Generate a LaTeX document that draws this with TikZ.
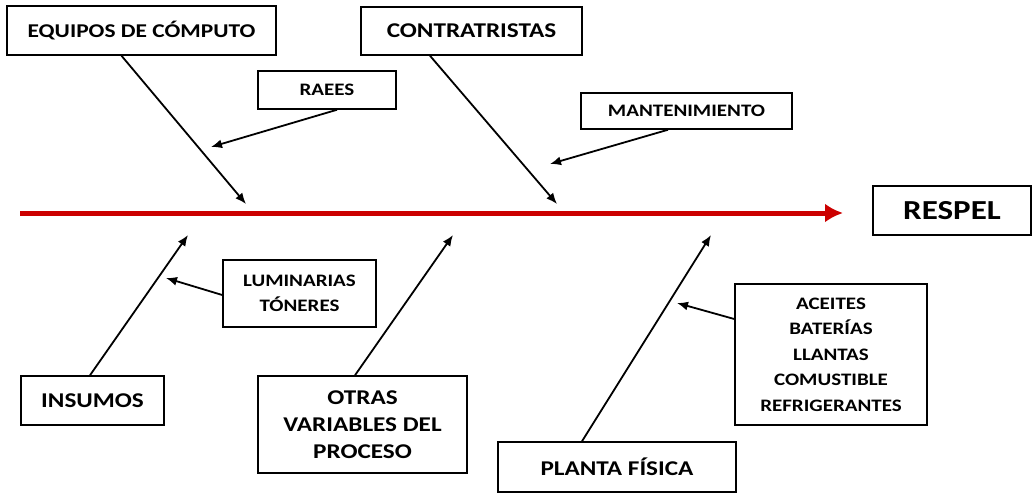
\documentclass[tikz,border=0pt]{standalone}
\usepackage{fontspec}
\setmainfont{Carlito}[FakeStretch=1.2]
\usetikzlibrary{arrows.meta}
\definecolor{rojo}{RGB}{204,0,0}
\begin{document}
\begin{tikzpicture}[x=1pt, y=-1pt, >={Latex[length=11pt,width=9pt]},
  caja/.style={draw, line width=1.5pt, align=center, inner sep=0pt,
    font=\bfseries\fontsize{21}{27}\selectfont},
  cajita/.style={caja, font=\bfseries\fontsize{17.5}{25.5}\selectfont}]
\useasboundingbox (0,0) rectangle (1033,493);

% causas
\node[caja, minimum width=269, minimum height=49, font=\bfseries\fontsize{19.5}{27}\selectfont] (equipos) at (141.5,30.5) {EQUIPOS DE CÓMPUTO};
\node[caja, minimum width=221, minimum height=48] (contrat) at (471.5,31) {CONTRATRISTAS};
\node[caja, minimum width=143, minimum height=49] (insumos) at (92.5,400.5) {INSUMOS};
\node[caja, minimum width=209, minimum height=97] (otras) at (362.5,424.5) {OTRAS\\VARIABLES DEL\\PROCESO};
\node[caja, minimum width=238, minimum height=50] (planta) at (617,467) {PLANTA FÍSICA};
\node[caja, minimum width=158, minimum height=49, font=\bfseries\fontsize{27.5}{30}\selectfont] (respel) at (952,210.5) {RESPEL};

% subcausas
\node[cajita, minimum width=138, minimum height=38] (raees) at (327,90) {RAEES};
\node[cajita, minimum width=211, minimum height=36] (mant) at (686.5,111) {MANTENIMIENTO};
\node[cajita, minimum width=153, minimum height=67] (lumin) at (299.5,293.5) {LUMINARIAS\\TÓNERES};
\node[cajita, minimum width=192, minimum height=141] (aceites) at (831,354.5) {ACEITES\\BATERÍAS\\LLANTAS\\COMUSTIBLE\\REFRIGERANTES};

% espina
\coordinate (cola) at (20,213);
\coordinate (cabeza) at (843,213);
\draw[rojo, line width=5pt, -{Latex[length=18pt,width=19pt]}] (cola) -- (cabeza);

\coordinate (p1) at (246,204);
\coordinate (p2) at (211,147);
\coordinate (p3) at (557,204);
\coordinate (p4) at (550,164);
\coordinate (p5) at (188,235);
\coordinate (p6) at (166,278);
\coordinate (p7) at (453,235);
\coordinate (p8) at (711,235);
\coordinate (p9) at (677,303);

\foreach \a/\dx/\dy/\b in {equipos.south/-20/0/p1, raees.south/10/0/p2,
    contrat.south/-41.5/0/p3, mant.south/-18.5/0/p4,
    insumos.north/-2.5/0/p5, lumin.west/0/1.5/p6,
    otras.north/-7.5/0/p7, planta.north/-35/0/p8,
    aceites.west/0/-35.5/p9}
{
    \draw[->, line width=1.8pt] ([shift={(\dx,\dy)}]\a) -- (\b);
}

\end{tikzpicture}
\end{document}
